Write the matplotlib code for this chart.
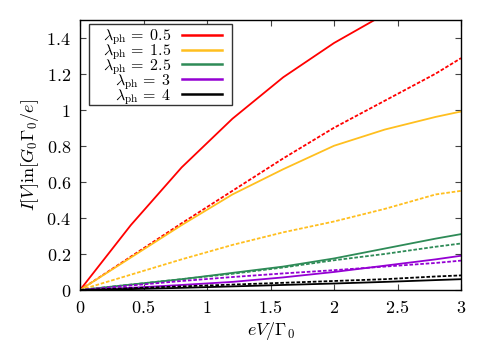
import numpy as np
import matplotlib
matplotlib.use('Agg')
import matplotlib.pyplot as plt
from matplotlib.patches import Rectangle

plt.rcParams['mathtext.fontset'] = 'cm'
plt.rcParams['font.family'] = ['DejaVu Serif']

# bias voltage eV/Gamma_0
bias = [0, 0.4, 0.8, 1.2, 1.6, 2.0, 2.4, 2.8, 3.0]

# solid curves
red_solid = [0, 0.36, 0.68, 0.95, 1.18, 1.37, 1.53, 1.68, 1.75]
orange_solid = [0, 0.18, 0.36, 0.53, 0.67, 0.80, 0.89, 0.96, 0.99]
green_solid = [0, 0.03, 0.06, 0.095, 0.13, 0.175, 0.23, 0.285, 0.31]
purple_solid = [0, 0.012, 0.028, 0.045, 0.07, 0.10, 0.135, 0.17, 0.19]
black_solid = [0, 0.005, 0.012, 0.02, 0.028, 0.036, 0.045, 0.055, 0.06]

# dashed curves
red_dashed = [0, 0.185, 0.37, 0.55, 0.73, 0.90, 1.05, 1.20, 1.286]
orange_dashed = [0, 0.085, 0.17, 0.25, 0.32, 0.38, 0.45, 0.53, 0.55]
green_dashed = [0, 0.03, 0.06, 0.09, 0.125, 0.165, 0.20, 0.24, 0.258]
purple_dashed = [0, 0.025, 0.05, 0.072, 0.092, 0.11, 0.13, 0.15, 0.163]
black_dashed = [0, 0.01, 0.02, 0.03, 0.04, 0.05, 0.06, 0.075, 0.081]

labels = [r'$\lambda_\mathrm{ph}\,=\;0.5$', r'$\lambda_\mathrm{ph}\,=\;1.5$',
          r'$\lambda_\mathrm{ph}\,=\;2.5$', r'$\lambda_\mathrm{ph}\,=\;3$',
          r'$\lambda_\mathrm{ph}\,=\;4$']
colors = ['#ff0000', '#ffbf1f', '#2e8b57', '#9400d3', '#000000']
solids = [red_solid, orange_solid, green_solid, purple_solid, black_solid]
dashes = [red_dashed, orange_dashed, green_dashed, purple_dashed, black_dashed]

fs = 13

fig = plt.figure(figsize=(4.91, 3.43), dpi=100)
ax = fig.add_axes([0.163, 0.1545, 0.776, 0.7885])

for s, d, c, lab in zip(solids, dashes, colors, labels):
    ax.plot(bias, s, '-', color=c, lw=1.3, label=lab)
    ax.plot(bias, d, '--', color=c, lw=1.3, dashes=(2, 1))

ax.set_xlim(0, 3)
ax.set_ylim(0, 1.5)
ax.set_xticks([0, 0.5, 1, 1.5, 2, 2.5, 3])
ax.set_xticklabels(['$0$', '$0.5$', '$1$', '$1.5$', '$2$', '$2.5$', '$3$'])
ax.set_yticks([0, 0.2, 0.4, 0.6, 0.8, 1, 1.2, 1.4])
ax.set_yticklabels(['$0$', '$0.2$', '$0.4$', '$0.6$', '$0.8$', '$1$', '$1.2$', '$1.4$'])
ax.tick_params(direction='in', top=True, right=True, labelsize=fs, length=4,
               pad=6.5, color='#444444')
for sp in ax.spines.values():
    sp.set_linewidth(1.0)
ax.set_xlabel(r'$eV/\Gamma_0$', fontsize=fs, labelpad=2)
ax.set_ylabel(r'$I[V]\mathrm{in}[G_0\Gamma_0/e]$', fontsize=fs, labelpad=4)

# legend box drawn separately so it can be tight around the rows
box = Rectangle((0.0236, 0.684), 0.3754, 0.3005, transform=ax.transAxes,
                facecolor='white', edgecolor='#333333', lw=1.0, zorder=4)
ax.add_patch(box)

leg = ax.legend(loc='center', bbox_to_anchor=(0.2165, 0.825), borderaxespad=0,
                markerfirst=False, fontsize=11.5, frameon=False,
                handlelength=2.5, labelspacing=-0.3,
                handletextpad=0.7, borderpad=0)
for h in leg.get_lines():
    h.set_linewidth(1.8)

fig.savefig('out.png', dpi=100)
